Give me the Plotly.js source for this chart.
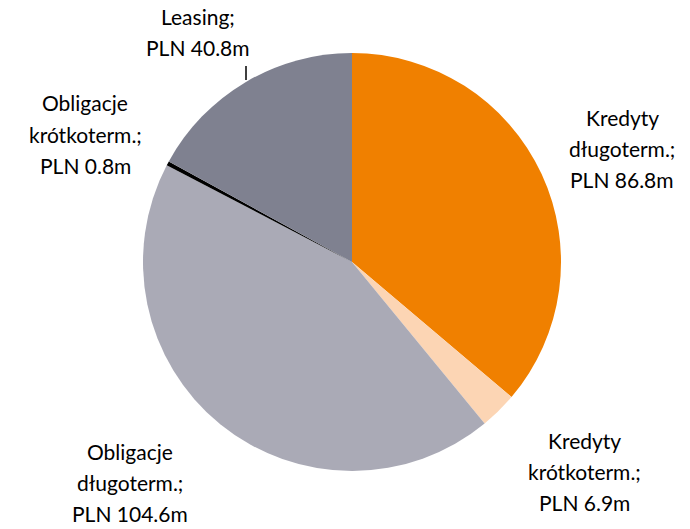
<!DOCTYPE html>
<html><head><meta charset="utf-8">
<script src="https://cdn.plot.ly/plotly-3.0.1.min.js"></script>
<style>html,body{margin:0;padding:0;background:#fff}#c{width:690px;height:529px}</style>
</head><body><div id="c"></div>
<script>
const categories = ["Kredyty długoterm.", "Kredyty krótkoterm.", "Obligacje długoterm.", "Obligacje krótkoterm.", "Leasing"];
const values = [86.8, 6.9, 104.6, 0.8, 40.8];
const colors = ["#F08000", "#FCD5B4", "#AAAAB6", "#000000", "#7F8190"];
const labelLines = [
  ["Kredyty", "długoterm.;", "PLN 86.8m"],
  ["Kredyty", "krótkoterm.;", "PLN 6.9m"],
  ["Obligacje", "długoterm.;", "PLN 104.6m"],
  ["Obligacje", "krótkoterm.;", "PLN 0.8m"],
  ["Leasing;", "PLN 40.8m"]
];
// label anchor positions (pixels: center x, first line y)
const labelPos = [[622,117],[584,440],[130,451],[85,103],[198,17]];
const W=690,H=529, lineH=31;
const annotations=[];
labelLines.forEach((lines,i)=>{
  lines.forEach((t,j)=>{
    annotations.push({x:labelPos[i][0]/W, y:1-(labelPos[i][1]+j*lineH)/H, xref:'paper', yref:'paper',
      text:t, showarrow:false, xanchor:'center', yanchor:'middle',
      font:{family:'Lato, "Open Sans", sans-serif', size:21, color:'#000'}});
  });
});
const cx=352, cy=262, r=209;
Plotly.newPlot('c',[{
  type:'pie', labels:categories, values:values, sort:false, direction:'clockwise', rotation:0,
  marker:{colors:colors, line:{width:0}}, textinfo:'none', hoverinfo:'label+value',
  domain:{x:[(cx-r)/W,(cx+r)/W], y:[1-(cy+r)/H,1-(cy-r)/H]}
}],{
  width:W,height:H,margin:{l:0,r:0,t:0,b:0},showlegend:false,
  paper_bgcolor:'#fff',plot_bgcolor:'#fff',
  annotations:annotations,
  shapes:[{type:'line',xref:'paper',yref:'paper',x0:246/W,x1:246/W,y0:1-66/H,y1:1-80/H,line:{color:'#000',width:1.5}}]
},{displayModeBar:false,staticPlot:true});
</script></body></html>
